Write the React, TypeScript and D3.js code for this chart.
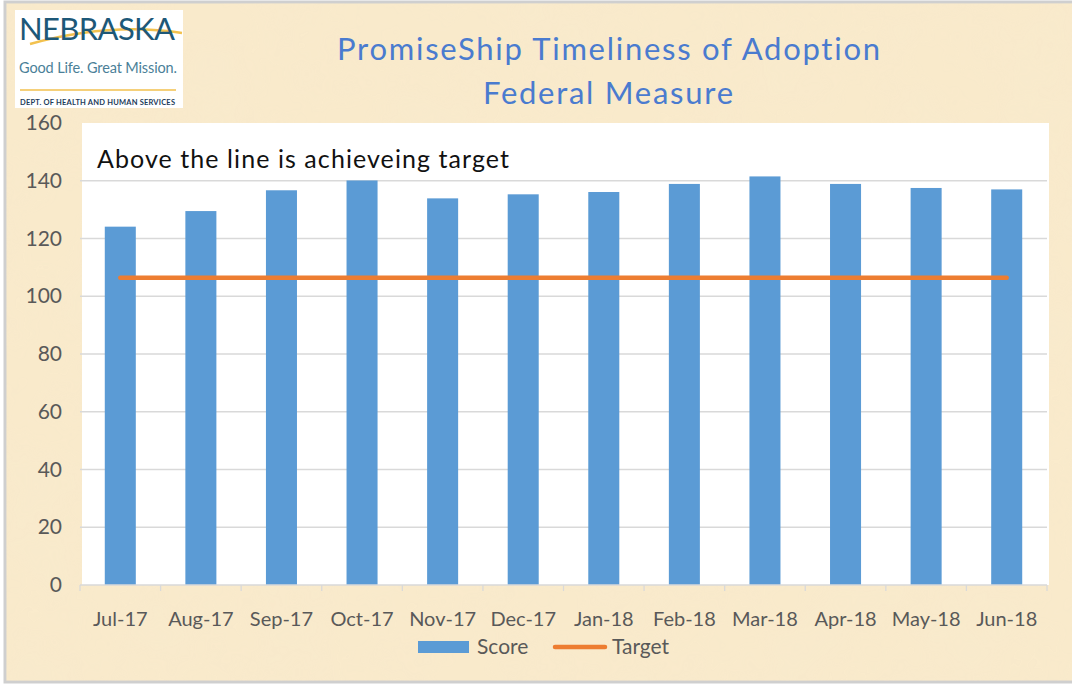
import * as d3 from "d3";
import { useEffect, useRef } from "react";

// chart data
const months = ["Jul-17", "Aug-17", "Sep-17", "Oct-17", "Nov-17", "Dec-17", "Jan-18", "Feb-18", "Mar-18", "Apr-18", "May-18", "Jun-18"];
const scores = [124.1, 129.5, 136.7, 140.1, 133.9, 135.3, 136.1, 138.9, 141.5, 138.9, 137.5, 137.0];
const target = [106.4, 106.4, 106.4, 106.4, 106.4, 106.4, 106.4, 106.4, 106.4, 106.4, 106.4, 106.4];
const yTicks = [0, 20, 40, 60, 80, 100, 120, 140, 160];

const W = 1072;
const H = 687;
const FONT = "Lato, 'Open Sans', sans-serif";

const App = () => {
  const ref = useRef<SVGSVGElement>(null);

  useEffect(() => {
    const svg = d3.select(ref.current);
    svg.selectAll("*").remove();

    // parchment background
    const defs = svg.append("defs");
    const f = defs.append("filter").attr("id", "paper").attr("x", 0).attr("y", 0).attr("width", 1).attr("height", 1);
    f.append("feTurbulence").attr("type", "fractalNoise").attr("baseFrequency", 0.012).attr("numOctaves", 4).attr("seed", 3);
    f.append("feColorMatrix").attr("type", "matrix")
      .attr("values", "0 0 0 0 0.93  0 0 0 0 0.82  0 0 0 0 0.62  0 0 0 -1.1 0.75");

    svg.append("rect").attr("width", W).attr("height", H).attr("fill", "#fff");
    svg.append("rect").attr("x", 5).attr("y", 2).attr("width", W).attr("height", 680)
      .attr("fill", "#f9eacb").attr("stroke", "#cfcfcf").attr("stroke-width", 3);
    svg.append("rect").attr("x", 6).attr("y", 3).attr("width", W - 6).attr("height", 678)
      .attr("filter", "url(#paper)").attr("opacity", 0.6);

    // logo
    const logo = svg.append("g");
    logo.append("rect").attr("x", 15).attr("y", 10).attr("width", 168).attr("height", 98).attr("fill", "#fff");
    logo.append("path").attr("d", "M30,44 Q110,22 182,33").attr("fill", "none")
      .attr("stroke", "#f2c14e").attr("stroke-width", 2.5);
    logo.append("text").attr("x", 19).attr("y", 40).attr("font-family", FONT).attr("font-weight", 400)
      .attr("font-size", 31).attr("fill", "#1d5878").attr("textLength", 156).text("NEBRASKA");
    logo.append("text").attr("x", 19).attr("y", 73).attr("font-family", FONT).attr("font-size", 14.5)
      .attr("fill", "#4b7f98").attr("textLength", 158).text("Good Life. Great Mission.");
    logo.append("line").attr("x1", 20).attr("x2", 176).attr("y1", 90).attr("y2", 90)
      .attr("stroke", "#f2c14e").attr("stroke-width", 1.5);
    logo.append("text").attr("x", 20).attr("y", 105).attr("font-family", FONT).attr("font-weight", 700)
      .attr("font-size", 7.5).attr("fill", "#1d3b5a").attr("textLength", 155).text("DEPT. OF HEALTH AND HUMAN SERVICES");

    // title
    svg.append("text").attr("x", 337).attr("y", 60).style("font-variant-ligatures", "none")
      .attr("font-family", FONT).attr("font-size", 31).attr("fill", "#4a7bcf")
      .attr("textLength", 543).text("PromiseShip Timeliness of Adoption");
    svg.append("text").attr("x", 483).attr("y", 104)
      .attr("font-family", FONT).attr("font-size", 31).attr("fill", "#4a7bcf")
      .attr("textLength", 250).text("Federal Measure");

    const left = 80, right = 1047, top = 123, bottom = 585;
    const x = d3.scaleBand().domain(months).range([left, right]).paddingInner(0.615).paddingOuter(0.3075);
    const y = d3.scaleLinear().domain([0, 160]).range([bottom, top]);

    svg.append("rect").attr("x", left + 2).attr("y", top).attr("width", right - left).attr("height", bottom - top)
      .attr("fill", "#fff");

    // gridlines
    svg.append("g").selectAll("line").data(yTicks.filter(t => t > 0 && t < 160)).join("line")
      .attr("x1", left).attr("x2", right).attr("y1", d => y(d)).attr("y2", d => y(d))
      .attr("stroke", "#d9d9d9").attr("stroke-width", 1.3);

    // y labels
    svg.append("g").selectAll("text").data(yTicks).join("text")
      .attr("x", 62).attr("y", d => y(d) + 7).attr("text-anchor", "end")
      .attr("font-family", FONT).attr("font-size", 21).attr("fill", "#595959").text(d => d);

    // annotation
    svg.append("text").attr("x", 97).attr("y", 168).attr("font-family", FONT).attr("font-size", 25)
      .attr("fill", "#111").attr("textLength", 412).text("Above the line is achieveing target");

    // bars
    svg.append("g").selectAll("rect").data(scores).join("rect")
      .attr("x", (d, i) => x(months[i])!).attr("y", d => y(d))
      .attr("width", x.bandwidth()).attr("height", d => bottom - y(d)).attr("fill", "#5b9bd5");

    // target line
    const line = d3.line<number>().x((d, i) => x(months[i])! + x.bandwidth() / 2).y(d => y(d));
    svg.append("path").attr("d", line(target)).attr("fill", "none").attr("stroke", "#ed7d31")
      .attr("stroke-width", 4.5).attr("stroke-linecap", "round");

    // x axis
    const xAxis = svg.append("g");
    xAxis.append("line").attr("x1", left).attr("x2", right).attr("y1", bottom).attr("y2", bottom)
      .attr("stroke", "#d9d9d9").attr("stroke-width", 1.3);
    const step = x.step();
    xAxis.selectAll(".tick").data(d3.range(months.length + 1)).join("line")
      .attr("x1", i => left + i * step).attr("x2", i => left + i * step)
      .attr("y1", bottom).attr("y2", bottom + 6).attr("stroke", "#d9d9d9").attr("stroke-width", 1.3);
    xAxis.selectAll("text").data(months).join("text")
      .attr("x", d => x(d)! + x.bandwidth() / 2).attr("y", 626).attr("text-anchor", "middle")
      .attr("font-family", FONT).attr("font-size", 20).attr("fill", "#595959").text(d => d);

    // legend
    const lg = svg.append("g");
    lg.append("rect").attr("x", 418).attr("y", 641).attr("width", 51).attr("height", 12).attr("fill", "#5b9bd5");
    lg.append("text").attr("x", 477).attr("y", 654).attr("font-family", FONT).attr("font-size", 21)
      .attr("fill", "#595959").text("Score");
    lg.append("line").attr("x1", 555).attr("x2", 605).attr("y1", 647).attr("y2", 647)
      .attr("stroke", "#ed7d31").attr("stroke-width", 4.5).attr("stroke-linecap", "round");
    lg.append("text").attr("x", 612).attr("y", 654).attr("font-family", FONT).attr("font-size", 21)
      .attr("fill", "#595959").text("Target");
  }, []);

  return <svg ref={ref} width={W} height={H} style={{ position: "absolute", left: 0, top: 0 }} />;
};

export default App;
